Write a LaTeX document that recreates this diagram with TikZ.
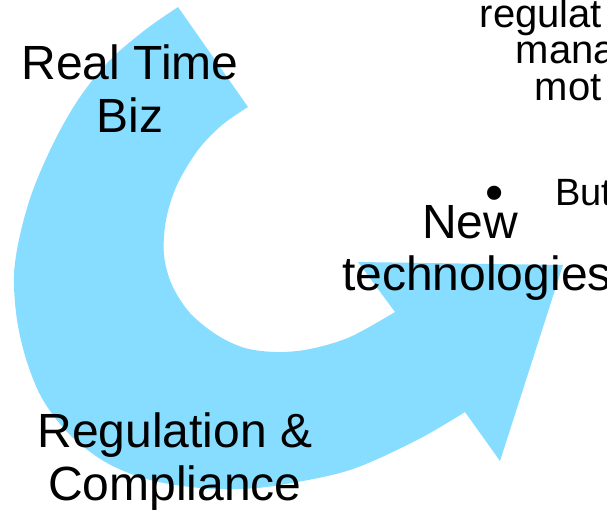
\documentclass[tikz,border=0pt]{standalone}
\usepackage{fontspec}
\setmainfont{Liberation Sans}
\definecolor{arrowblue}{RGB}{135,221,255}
\begin{document}
\begin{tikzpicture}[x=1pt,y=-1pt,
  bigtext/.style={font=\fontsize{48}{53}\selectfont, inner sep=0pt, anchor=base},
  sidetext/.style={font=\fontsize{40}{37}\selectfont, inner sep=0pt, anchor=base west},
  buttext/.style={font=\fontsize{38}{42}\selectfont, inner sep=0pt, anchor=base west},
  bullettext/.style={font=\fontsize{52}{56}\selectfont, inner sep=0pt, anchor=center}]
\useasboundingbox (0,0) rectangle (607,509);
% curved arrow
\fill[arrowblue]
  plot[smooth, tension=0.55] coordinates {(178,7) (145,30) (110,60) (80,97) (55,140) (33,190) (20,235) (14,275) (17,320) (27,362) (43,400) (70,435) (107,463) (150,480) (200,488) (240,489) (280,485) (350,470) (417,440) (465,412)}
  -- (500,461) -- (563,265) -- (358,262) --
  plot[smooth, tension=0.55] coordinates {(395,312) (350,337) (310,349) (277,352) (245,348) (217,335) (190,313) (172,285) (164,255) (166,220) (177,185) (198,150) (222,125) (248,107)}
  -- cycle;
% labels
\node[bigtext] (rt1) at (130,79) {Real Time};
\node[bigtext] (rt2) at (130,132) {Biz};
\node[bigtext] (nt1) at (477,238) {New\hphantom{\ }};
\node[bigtext] (nt2) at (477,290) {technologies};
\node[bigtext] (rc1) at (175,447) {Regulation \&};
\node[bigtext] (rc2) at (175,500) {Compliance};
% side text cut off at the right border
\node[sidetext] (s1) at (479.5,27) {regulat};
\node[sidetext] (s2) at (515.5,63) {mana};
\node[sidetext] (s3) at (534.5,100) {mot};
\node[bullettext] (b1) at (495,198) {•};
\node[buttext] (b2) at (555,205) {But};
\end{tikzpicture}
\end{document}
